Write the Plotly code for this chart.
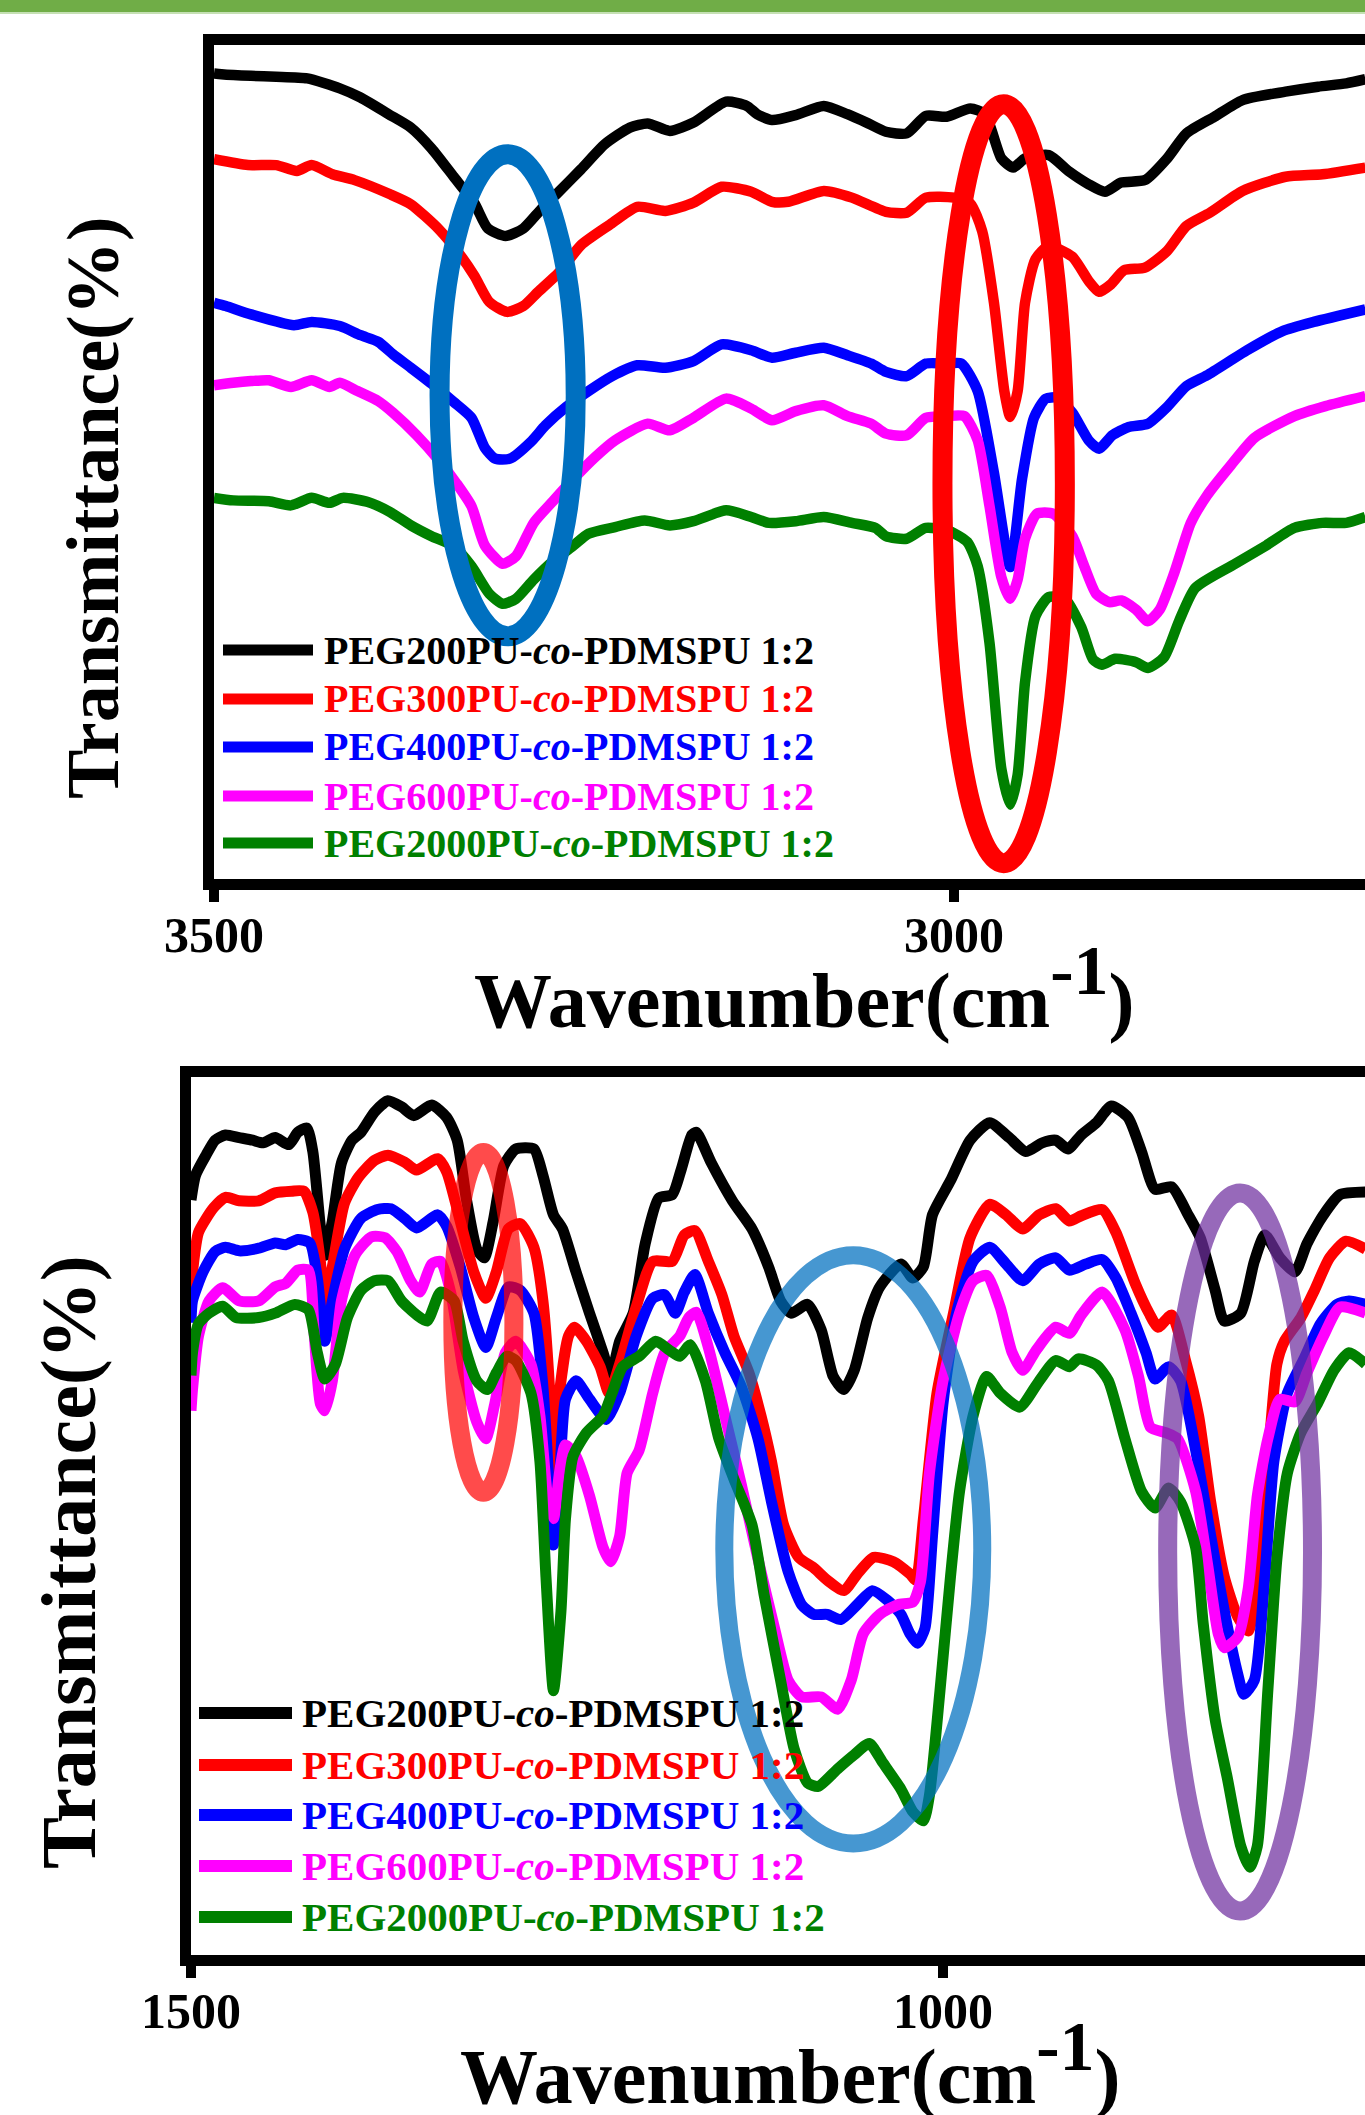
import plotly.graph_objects as go

W, H = 1365, 2115

# ---------------- data (wavenumber cm-1, transmittance a.u.) ----------------
SERIES_NAMES = [
    "PEG200PU-<i>co</i>-PDMSPU 1:2",
    "PEG300PU-<i>co</i>-PDMSPU 1:2",
    "PEG400PU-<i>co</i>-PDMSPU 1:2",
    "PEG600PU-<i>co</i>-PDMSPU 1:2",
    "PEG2000PU-<i>co</i>-PDMSPU 1:2",
]
COLORS = ["#000000", "#FF0000", "#0000FF", "#FF00FF", "#008000"]

TOP_TICKS = [3500, 3000]
BOTTOM_TICKS = [1500, 1000]

TOP_BLACK = [(3500, 96.6), (3495, 96.5), (3475, 96.3), (3458, 96.2), (3437, 96.0), (3415, 94.8), (3401, 93.7),
             (3382, 91.7), (3367, 90.1), (3353, 87.6), (3338, 84.2), (3324, 81.0), (3315, 78.0), (3303, 77.1),
             (3291, 78.0), (3279, 80.3), (3267, 82.4), (3252, 85.1), (3236, 88.1), (3219, 90.1), (3207, 90.6),
             (3192, 89.7), (3176, 90.7), (3154, 93.2), (3140, 92.7), (3133, 91.7), (3123, 91.0), (3107, 91.6),
             (3088, 92.7), (3072, 91.7), (3058, 90.6), (3046, 89.6), (3032, 89.4), (3019, 91.5), (3005, 91.4),
             (2989, 92.4), (2979, 91.7), (2968, 86.4), (2960, 85.3), (2952, 86.4), (2936, 86.8), (2922, 84.8),
             (2909, 83.3), (2898, 82.4), (2887, 83.5), (2871, 83.8), (2856, 86.4), (2843, 89.4), (2824, 91.4),
             (2805, 93.4), (2776, 94.4), (2754, 95.0), (2735, 95.4), (2722, 95.9)]
TOP_RED = [(3500, 86.3), (3477, 85.6), (3458, 85.6), (3444, 84.9), (3434, 85.6), (3420, 84.5), (3405, 83.8),
           (3381, 82.1), (3367, 80.9), (3348, 77.9), (3334, 74.9), (3324, 72.3), (3314, 69.2), (3302, 68.0),
           (3291, 68.7), (3281, 70.4), (3267, 72.7), (3252, 76.0), (3233, 78.4), (3214, 80.6), (3195, 80.1),
           (3176, 81.1), (3157, 83.0), (3137, 82.4), (3123, 81.2), (3112, 81.2), (3088, 82.5), (3069, 81.7),
           (3046, 80.0), (3032, 79.9), (3019, 81.7), (3000, 81.7), (2989, 81.0), (2981, 77.7), (2973, 69.1),
           (2966, 58.5), (2962, 55.4), (2957, 58.5), (2952, 69.1), (2945, 74.3), (2936, 75.9), (2920, 74.6),
           (2909, 71.7), (2902, 70.4), (2894, 71.3), (2885, 73.0), (2871, 73.3), (2856, 75.3), (2843, 78.3),
           (2827, 79.9), (2805, 82.5), (2776, 84.2), (2751, 84.5), (2722, 85.3)]
TOP_BLUE = [(3500, 69.1), (3492, 68.7), (3475, 67.7), (3446, 66.4), (3434, 66.8), (3415, 66.3), (3401, 65.2),
            (3389, 64.4), (3379, 62.9), (3367, 61.3), (3353, 59.4), (3338, 57.2), (3326, 55.3), (3317, 51.7),
            (3310, 50.4), (3300, 50.4), (3286, 52.4), (3276, 54.4), (3262, 56.6), (3247, 58.5), (3231, 60.3),
            (3214, 61.6), (3195, 61.3), (3176, 62.1), (3157, 64.1), (3137, 63.4), (3123, 62.5), (3107, 63.1),
            (3088, 63.7), (3072, 62.8), (3056, 61.8), (3046, 60.8), (3032, 60.3), (3019, 61.8), (3005, 61.8),
            (2995, 61.8), (2984, 58.5), (2973, 48.7), (2962, 37.4), (2954, 48.0), (2946, 55.3), (2938, 57.6),
            (2930, 57.7), (2920, 55.9), (2909, 52.6), (2902, 51.6), (2893, 53.2), (2882, 54.2), (2869, 54.6),
            (2856, 56.6), (2843, 59.1), (2829, 60.4), (2802, 63.4), (2778, 65.7), (2757, 66.8), (2722, 68.3)]
TOP_MAGENTA = [(3500, 59.2), (3487, 59.5), (3475, 59.7), (3463, 59.8), (3448, 59.0), (3434, 59.8), (3422, 59.0),
               (3415, 59.5), (3403, 58.5), (3389, 57.3), (3379, 55.9), (3363, 53.2), (3348, 50.2), (3336, 47.4),
               (3326, 44.7), (3317, 40.0), (3305, 37.8), (3296, 38.7), (3284, 42.7), (3271, 45.3), (3257, 48.0),
               (3243, 50.5), (3229, 52.6), (3207, 54.6), (3192, 53.8), (3176, 55.3), (3154, 57.6), (3137, 56.4),
               (3123, 55.0), (3107, 56.1), (3088, 56.8), (3072, 55.5), (3056, 54.6), (3046, 53.4), (3032, 53.2),
               (3019, 55.3), (3005, 55.5), (2993, 55.5), (2984, 52.6), (2976, 44.7), (2968, 36.2), (2962, 33.6),
               (2957, 35.9), (2952, 40.8), (2944, 43.8), (2933, 43.8), (2920, 41.1), (2912, 37.5), (2904, 34.2),
               (2895, 33.2), (2887, 33.4), (2877, 32.3), (2869, 30.9), (2861, 32.3), (2851, 36.8), (2840, 42.7),
               (2829, 46.0), (2813, 49.6), (2797, 52.9), (2770, 55.5), (2749, 56.7), (2722, 57.9)]
TOP_GREEN = [(3500, 45.7), (3487, 45.4), (3463, 45.3), (3448, 44.8), (3434, 45.7), (3422, 45.1), (3413, 45.7),
             (3396, 45.2), (3381, 44.0), (3367, 42.4), (3353, 41.1), (3338, 39.9), (3326, 37.5), (3314, 34.2),
             (3305, 33.0), (3296, 33.6), (3284, 35.9), (3271, 38.1), (3257, 40.0), (3247, 41.4), (3229, 42.2),
             (3209, 43.0), (3192, 42.4), (3176, 42.9), (3154, 44.2), (3137, 43.4), (3125, 42.7), (3107, 42.9),
             (3088, 43.4), (3069, 42.7), (3053, 42.1), (3046, 41.1), (3032, 40.8), (3019, 42.1), (3003, 41.7),
             (2991, 40.4), (2984, 37.5), (2976, 28.3), (2968, 13.2), (2962, 8.9), (2957, 12.5), (2952, 23.6),
             (2945, 31.5), (2936, 33.8), (2925, 33.6), (2914, 30.2), (2906, 26.3), (2900, 25.7), (2891, 26.4),
             (2877, 26.0), (2869, 25.3), (2858, 26.6), (2848, 30.9), (2837, 34.9), (2810, 37.8), (2789, 40.0),
             (2770, 42.1), (2751, 42.7), (2735, 42.7), (2722, 43.4)]

BOT_BLACK = [(1500, 86.0), (1497, 88.8), (1490, 91.1), (1484, 92.8), (1477, 93.4), (1468, 93.1), (1459, 92.8),
             (1452, 92.5), (1444, 93.1), (1435, 92.3), (1429, 93.7), (1423, 94.2), (1419, 91.5), (1414, 83.0),
             (1411, 79.7), (1406, 83.6), (1400, 90.2), (1393, 92.8), (1387, 93.7), (1378, 96.0), (1369, 97.3),
             (1360, 96.6), (1352, 95.6), (1340, 96.8), (1330, 95.4), (1323, 92.8), (1317, 86.2), (1310, 80.4),
             (1305, 79.4), (1299, 83.6), (1292, 89.9), (1284, 91.8), (1272, 91.8), (1266, 88.8), (1259, 84.3),
             (1253, 82.7), (1244, 77.8), (1235, 73.1), (1226, 68.6), (1221, 65.9), (1215, 69.9), (1206, 73.1),
             (1198, 81.0), (1189, 86.2), (1180, 86.6), (1174, 89.5), (1167, 93.4), (1164, 93.7), (1154, 90.2),
             (1140, 85.9), (1127, 82.7), (1116, 78.4), (1108, 74.5), (1101, 73.1), (1090, 74.1), (1081, 71.2),
             (1073, 65.9), (1066, 64.4), (1059, 66.6), (1050, 72.6), (1042, 76.1), (1028, 78.7), (1020, 77.1),
             (1013, 78.4), (1007, 84.3), (995, 88.2), (982, 92.8), (969, 94.8), (956, 93.1), (945, 91.5),
             (934, 92.5), (925, 92.8), (917, 91.8), (908, 93.4), (898, 94.8), (888, 96.7), (877, 95.4),
             (868, 91.5), (859, 87.2), (848, 87.5), (837, 84.3), (829, 81.7), (819, 75.7), (813, 72.2),
             (802, 73.1), (793, 79.0), (786, 82.0), (776, 79.4), (766, 77.8), (758, 81.0), (747, 84.3),
             (736, 86.6), (719, 86.9)]
BOT_RED = [(1500, 76.0), (1499, 77.8), (1495, 82.3), (1485, 85.1), (1477, 86.3), (1468, 85.9), (1455, 85.9),
           (1444, 86.8), (1433, 87.0), (1425, 87.0), (1419, 84.6), (1414, 79.0), (1411, 74.1), (1406, 78.4),
           (1398, 85.6), (1389, 88.5), (1378, 90.5), (1369, 91.1), (1358, 90.3), (1350, 89.4), (1336, 90.7),
           (1330, 89.2), (1321, 83.6), (1312, 77.8), (1304, 74.8), (1297, 77.8), (1289, 82.7), (1281, 83.3),
           (1272, 80.6), (1266, 74.5), (1261, 62.8), (1259, 54.9), (1255, 64.0), (1249, 70.5), (1245, 71.5),
           (1237, 69.9), (1228, 67.0), (1222, 64.0), (1215, 67.3), (1204, 73.8), (1193, 79.0), (1180, 79.0),
           (1172, 82.0), (1165, 82.5), (1156, 79.0), (1147, 75.2), (1139, 70.5), (1129, 66.3), (1121, 61.4),
           (1114, 56.2), (1106, 49.0), (1096, 45.3), (1086, 44.1), (1077, 42.7), (1066, 41.5), (1057, 43.4),
           (1046, 45.3), (1033, 44.8), (1022, 43.4), (1018, 42.7), (1013, 49.7), (1004, 64.0), (993, 73.1),
           (982, 81.7), (969, 85.5), (958, 84.3), (947, 82.7), (936, 84.3), (925, 85.0), (916, 83.6),
           (908, 84.2), (894, 84.9), (885, 82.3), (872, 76.4), (863, 73.1), (857, 71.5), (848, 72.9),
           (839, 67.9), (830, 61.4), (822, 51.6), (813, 43.1), (804, 38.5), (797, 36.9), (791, 43.1),
           (784, 56.2), (778, 67.3), (773, 69.9), (762, 72.6), (753, 75.7), (743, 79.4), (732, 81.3), (719, 80.4)]
BOT_BLUE = [(1500, 72.0), (1499, 74.5), (1492, 77.8), (1484, 80.1), (1477, 80.6), (1468, 80.2), (1455, 80.5),
            (1444, 81.1), (1437, 80.9), (1429, 81.5), (1421, 81.1), (1416, 77.1), (1411, 69.9), (1406, 74.5),
            (1398, 80.4), (1387, 83.9), (1376, 84.9), (1367, 85.0), (1358, 83.9), (1350, 82.8), (1336, 84.3),
            (1330, 83.0), (1321, 78.4), (1312, 72.6), (1304, 69.2), (1297, 72.6), (1289, 76.1), (1281, 75.7),
            (1272, 73.1), (1266, 64.7), (1261, 50.9), (1259, 46.7), (1255, 54.2), (1251, 63.3), (1244, 65.4),
            (1235, 63.3), (1224, 61.0), (1215, 64.0), (1204, 70.5), (1193, 74.8), (1185, 75.2), (1178, 73.1),
            (1172, 75.5), (1165, 77.5), (1156, 73.1), (1145, 68.6), (1134, 64.7), (1123, 58.8), (1114, 51.6),
            (1103, 43.7), (1094, 39.9), (1086, 38.8), (1077, 38.8), (1068, 38.2), (1057, 39.9), (1047, 41.5),
            (1037, 40.4), (1028, 38.8), (1022, 36.6), (1017, 35.5), (1012, 37.2), (1007, 47.7), (1000, 62.8),
            (991, 73.1), (980, 79.0), (969, 80.6), (958, 78.7), (947, 76.8), (936, 78.7), (925, 79.4),
            (916, 78.0), (905, 78.7), (894, 79.2), (885, 77.1), (875, 73.1), (865, 68.6), (859, 65.6),
            (850, 67.0), (842, 65.4), (832, 57.5), (824, 49.7), (813, 39.2), (804, 32.0), (800, 29.7),
            (793, 31.3), (786, 43.1), (780, 56.2), (771, 64.0), (760, 67.9), (749, 71.9), (738, 74.1),
            (730, 74.5), (719, 74.1)]
BOT_MAGENTA = [(1500, 62.0), (1499, 64.4), (1495, 70.5), (1488, 74.5), (1479, 76.0), (1468, 74.5), (1455, 74.5),
               (1444, 76.1), (1437, 76.5), (1429, 78.0), (1422, 78.0), (1418, 70.5), (1414, 62.8), (1411, 62.0),
               (1406, 65.4), (1400, 74.5), (1391, 79.7), (1380, 81.8), (1371, 81.7), (1363, 80.1), (1354, 76.8),
               (1348, 75.5), (1340, 78.7), (1334, 79.0), (1327, 75.2), (1319, 66.6), (1310, 60.7), (1304, 58.8),
               (1298, 62.8), (1291, 68.6), (1284, 69.9), (1274, 67.3), (1268, 61.4), (1263, 52.3), (1259, 49.7),
               (1255, 54.9), (1251, 58.1), (1244, 56.8), (1235, 52.3), (1226, 46.4), (1221, 44.8), (1215, 47.7),
               (1210, 54.9), (1202, 57.5), (1193, 64.0), (1185, 68.6), (1175, 70.5), (1169, 72.6), (1164, 73.2),
               (1156, 69.2), (1145, 61.4), (1134, 53.5), (1123, 45.1), (1112, 37.2), (1103, 31.3), (1094, 29.4),
               (1081, 29.4), (1070, 28.0), (1061, 31.3), (1053, 36.6), (1042, 38.8), (1030, 39.9), (1020, 40.2),
               (1015, 42.5), (1009, 54.9), (1000, 65.4), (989, 73.1), (980, 76.8), (971, 77.4), (962, 73.8),
               (954, 68.6), (947, 66.6), (938, 68.9), (925, 71.5), (916, 70.8), (908, 72.9), (894, 75.5),
               (879, 71.2), (870, 65.9), (862, 60.1), (852, 59.5), (844, 58.8), (832, 52.8), (824, 44.4),
               (817, 36.6), (813, 35.0), (804, 36.2), (797, 41.8), (791, 52.3), (784, 58.8), (776, 63.3),
               (766, 63.0), (758, 66.3), (747, 70.5), (736, 73.8), (719, 73.1)]
BOT_GREEN = [(1500, 66.0), (1499, 68.6), (1495, 71.9), (1488, 73.1), (1479, 73.9), (1470, 72.6), (1455, 72.6),
             (1444, 73.1), (1431, 74.1), (1422, 73.5), (1416, 68.6), (1411, 65.6), (1404, 67.3), (1396, 72.6),
             (1387, 75.7), (1378, 76.8), (1369, 76.8), (1360, 74.5), (1350, 72.9), (1343, 72.2), (1334, 75.5),
             (1325, 74.5), (1319, 69.9), (1310, 65.4), (1303, 64.4), (1297, 66.3), (1290, 68.2), (1284, 67.7),
             (1274, 64.0), (1268, 56.2), (1264, 43.1), (1259, 30.1), (1254, 39.2), (1251, 49.7), (1246, 56.8),
             (1237, 59.5), (1226, 61.4), (1220, 64.0), (1213, 67.0), (1202, 68.2), (1191, 69.9), (1182, 68.9),
             (1175, 68.2), (1168, 69.5), (1158, 65.4), (1149, 58.8), (1139, 54.2), (1127, 49.0), (1119, 41.1),
             (1108, 31.3), (1099, 23.5), (1090, 19.6), (1083, 19.2), (1070, 21.2), (1059, 22.8), (1049, 24.1),
             (1040, 21.9), (1028, 18.9), (1020, 16.3), (1013, 15.3), (1009, 18.2), (1002, 30.1), (995, 43.1),
             (989, 52.8), (980, 61.4), (971, 65.9), (962, 64.0), (949, 62.4), (936, 65.4), (925, 67.7),
             (916, 67.0), (910, 67.9), (898, 67.2), (890, 65.4), (879, 58.8), (868, 52.8), (859, 50.9),
             (850, 53.2), (842, 51.6), (832, 46.4), (827, 37.8), (819, 26.8), (811, 20.2), (802, 12.4),
             (796, 10.0), (791, 12.4), (784, 30.1), (778, 45.1), (771, 54.9), (762, 59.5), (751, 62.8),
             (740, 66.6), (730, 68.6), (719, 67.3)]

TOP_SERIES = [TOP_BLACK, TOP_RED, TOP_BLUE, TOP_MAGENTA, TOP_GREEN]
BOT_SERIES = [BOT_BLACK, BOT_RED, BOT_BLUE, BOT_MAGENTA, BOT_GREEN]

# highlight ellipses (wavenumber / transmittance extents)
TOP_ELLIPSES = [
    dict(x0=3347.6, x1=3255.6, y0=29.1, y1=86.9, color="#0070C0", width=20, opacity=1.0),
    dict(x0=3007.8, x1=2925.1, y0=1.9, y1=92.9, color="#FF0000", width=20, opacity=1.0),
]
BOT_ELLIPSES = [
    dict(x0=1325.9, x1=1285.3, y0=52.7, y1=91.4, color="#FF0000", width=19, opacity=0.7),
    dict(x0=1145.4, x1=973.9, y0=12.7, y1=79.7, color="#0070C0", width=18, opacity=0.72),
    dict(x0=850.6, x1=754.3, y0=5.0, y1=86.8, color="#7030A0", width=19, opacity=0.72),
]

FONT = "Liberation Serif"

fig = go.Figure()

for data, color in zip(TOP_SERIES, COLORS):
    wn = [p[0] for p in data]
    tt = [p[1] for p in data]
    fig.add_trace(go.Scatter(x=wn, y=tt, mode="lines", xaxis="x", yaxis="y", showlegend=False,
                             line=dict(color=color, width=10.5, shape="spline", smoothing=0.6)))
for data, color in zip(BOT_SERIES, COLORS):
    wn = [p[0] for p in data]
    tt = [p[1] for p in data]
    fig.add_trace(go.Scatter(x=wn, y=tt, mode="lines", xaxis="x2", yaxis="y2", showlegend=False,
                             line=dict(color=color, width=11, shape="spline", smoothing=0.6)))

shapes = []
for e in TOP_ELLIPSES:
    shapes.append(dict(type="circle", xref="x", yref="y", x0=e["x0"], x1=e["x1"], y0=e["y0"], y1=e["y1"],
                       line=dict(color=e["color"], width=e["width"]), opacity=e["opacity"], layer="above"))
for e in BOT_ELLIPSES:
    shapes.append(dict(type="circle", xref="x2", yref="y2", x0=e["x0"], x1=e["x1"], y0=e["y0"], y1=e["y1"],
                       line=dict(color=e["color"], width=e["width"]), opacity=e["opacity"], layer="above"))

# green banner at the very top
shapes.append(dict(type="rect", xref="paper", yref="paper", x0=0, x1=1, y0=1 - 12 / H, y1=1,
                   fillcolor="#70AD47", line=dict(width=0), layer="above"))
shapes.append(dict(type="rect", xref="paper", yref="paper", x0=0, x1=1, y0=1 - 14 / H, y1=1 - 12 / H,
                   fillcolor="#C5E0B4", line=dict(width=0), layer="above"))

annotations = []


def add_legend(x_line0, x_line1, x_text, y_rows, size, lw):
    for name, color, yy in zip(SERIES_NAMES, COLORS, y_rows):
        shapes.append(dict(type="line", xref="paper", yref="paper", x0=x_line0 / W, x1=x_line1 / W,
                           y0=1 - yy / H, y1=1 - yy / H, line=dict(color=color, width=lw), layer="above"))
        annotations.append(dict(text=name, xref="paper", yref="paper", x=x_text / W, y=1 - yy / H,
                                xanchor="left", yanchor="middle", showarrow=False,
                                font=dict(family=FONT, size=size, color=color, weight="bold")))


add_legend(223, 313, 322, [650, 699, 747, 796, 843], 40, 11)
add_legend(199, 292, 300, [1713, 1765, 1815, 1866, 1917], 41, 12)

XTITLE = "Wavenumber(cm<sup><span style='font-size:70px'>-1</span></sup>)"
annotations.append(dict(text=XTITLE, xref="paper", yref="paper", x=804 / W, y=1 - 988 / H,
                        xanchor="center", yanchor="middle", showarrow=False,
                        font=dict(family=FONT, size=78, color="black", weight="bold")))
annotations.append(dict(text=XTITLE, xref="paper", yref="paper", x=790 / W, y=1 - 2064 / H,
                        xanchor="center", yanchor="middle", showarrow=False,
                        font=dict(family=FONT, size=78, color="black", weight="bold")))
annotations.append(dict(text="Transmittance(%)", xref="paper", yref="paper", x=93 / W, y=1 - 508 / H,
                        xanchor="center", yanchor="middle", textangle=-90, showarrow=False,
                        font=dict(family=FONT, size=74, color="black", weight="bold")))
annotations.append(dict(text="Transmittance(%)", xref="paper", yref="paper", x=68 / W, y=1 - 1562 / H,
                        xanchor="center", yanchor="middle", textangle=-90, showarrow=False,
                        font=dict(family=FONT, size=78, color="black", weight="bold")))

axis_common = dict(showline=True, linecolor="black", linewidth=11, mirror=True, showgrid=False,
                   zeroline=False, automargin=False)
xfmt = dict(ticks="outside", ticklen=12, tickwidth=10, tickcolor="black", ticklabelstandoff=-10,
            tickfont=dict(family=FONT, size=50, color="black", weight="bold"))

fig.update_layout(
    template="none",
    width=W, height=H,
    autosize=False,
    margin=dict(l=0, r=0, t=0, b=0, pad=0, autoexpand=False),
    paper_bgcolor="white", plot_bgcolor="white",
    showlegend=False,
    xaxis=dict(domain=[214 / W, 1], range=[3500, 2722.3], anchor="y",
               tickvals=TOP_TICKS, ticktext=[str(v) for v in TOP_TICKS], **axis_common, **xfmt),
    yaxis=dict(domain=[1 - 879 / H, 1 - 45 / H], range=[0, 100], anchor="x",
               showticklabels=False, ticks="", **axis_common),
    xaxis2=dict(domain=[191 / W, 1], range=[1500, 719.4], anchor="y2",
                tickvals=BOTTOM_TICKS, ticktext=[str(v) for v in BOTTOM_TICKS], **axis_common, **xfmt),
    yaxis2=dict(domain=[1 - 1955 / H, 1 - 1077 / H], range=[0, 100], anchor="x2",
                showticklabels=False, ticks="", **axis_common),
    shapes=shapes,
    annotations=annotations,
)

PAGE_CSS = ("document.documentElement.style.margin='0';document.body.style.margin='0';"
            "document.body.style.padding='0';document.documentElement.style.overflow='hidden';"
            "document.body.style.overflow='hidden';")
fig.write_html("out.html", post_script=PAGE_CSS, config={"displayModeBar": False, "responsive": False})
